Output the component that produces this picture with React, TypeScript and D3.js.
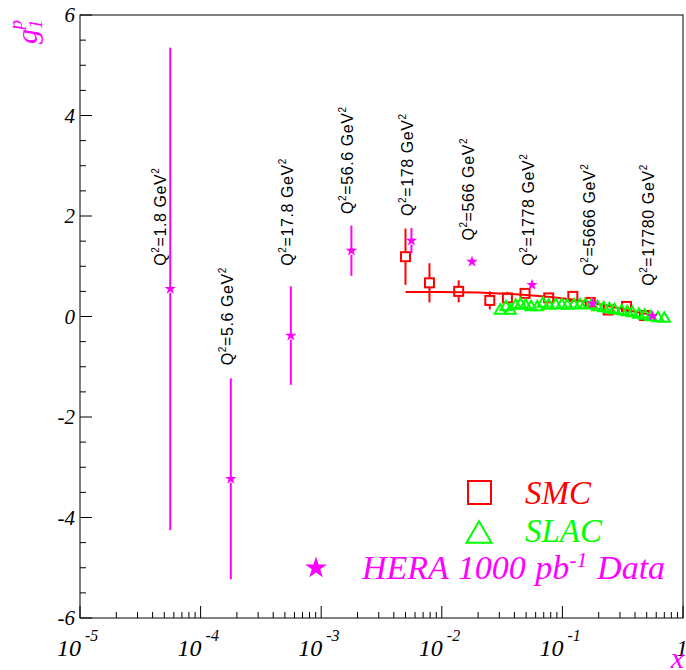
import React from 'react';
import * as d3 from 'd3';

const W = 686;
const H = 670;

// axis ticks
const yMajorTicks = [-6, -4, -2, 0, 2, 4, 6];
const yTickLabels = ['-6', '-4', '-2', '0', '2', '4', '6'];
const xDecades = [-5, -4, -3, -2, -1, 0];
const xDecadeLabels = ['-5', '-4', '-3', '-2', '-1', ''];

// HERA projected data (stars)
const heraX = [5.6e-5, 1.78e-4, 5.6e-4, 1.78e-3, 5.6e-3, 1.78e-2, 5.6e-2, 0.178, 0.56];
const heraY = [0.55, -3.23, -0.38, 1.31, 1.51, 1.09, 0.63, 0.26, 0.01];
const heraErr = [4.8, 2.0, 0.98, 0.5, 0.25, 0.08, 0.06, 0.04, 0.03];

// Q^2 annotations
const q2Values = ['1.8', '5.6', '17.8', '56.6', '178', '566', '1778', '5666', '17780'];
const labelX = [5.2e-5, 1.85e-4, 5.8e-4, 1.85e-3, 5.8e-3, 1.85e-2, 5.8e-2, 0.185, 0.58];
const labelY = [1.01, -0.97, 1.01, 2.04, 2.0, 1.51, 1.01, 0.81, 0.61];

// SMC data (open squares)
const smcX = [0.005, 0.0079, 0.0138, 0.025, 0.035, 0.049, 0.077, 0.122, 0.17, 0.24, 0.34, 0.48];
const smcY = [1.19, 0.67, 0.5, 0.32, 0.37, 0.46, 0.37, 0.4, 0.28, 0.13, 0.2, 0.02];
const smcErr = [0.56, 0.39, 0.22, 0.18, 0.12, 0.1, 0.08, 0.06, 0.05, 0.05, 0.05, 0.05];

// SLAC data (open triangles)
const slacX = [0.0305, 0.034, 0.037, 0.041, 0.045, 0.0495, 0.055, 0.062, 0.069, 0.077, 0.088, 0.099,
  0.11, 0.125, 0.14, 0.155, 0.175, 0.196, 0.22, 0.245, 0.27, 0.31, 0.345, 0.38, 0.43, 0.48, 0.54, 0.62, 0.70];
const slacY = [0.15, 0.22, 0.15, 0.25, 0.27, 0.25, 0.22, 0.22, 0.29, 0.25, 0.26, 0.26,
  0.25, 0.26, 0.26, 0.26, 0.26, 0.22, 0.2, 0.18, 0.16, 0.14, 0.12, 0.1, 0.07, 0.05, 0.02, 0.0, -0.01];

// fit curve (red line)
const fitX = [0.005, 0.01, 0.02, 0.03, 0.05, 0.08, 0.12, 0.2, 0.3, 0.45, 0.6];
const fitY = [0.49, 0.49, 0.48, 0.46, 0.43, 0.39, 0.34, 0.25, 0.16, 0.07, 0.02];

const MAGENTA = '#ff00ff';
const RED = '#ff0000';
const GREEN = '#00ff00';
const SERIF = '"Liberation Serif", "Times New Roman", serif';
const SANS = '"Liberation Sans", Arial, Helvetica, sans-serif';

const x = d3.scaleLog().domain([1e-5, 1]).range([80, 683]);
const y = d3.scaleLinear().domain([-6, 6]).range([618, 15]);

const starPath = (size: number) => d3.symbol().type(d3.symbolStar).size(size)() as string;
const triPath = (s: number) => {
  const h = s * 0.866;
  return `M0,${-h / 2}L${s / 2},${h / 2}L${-s / 2},${h / 2}Z`;
};

function ErrBar({ px, py, err, gap, color, w }: { px: number; py: number; err: number; gap: number; color: string; w: number }) {
  const top = y(py + err) as number;
  const bot = y(py - err) as number;
  const cy = y(py) as number;
  const segs: [number, number][] = [];
  if (cy - gap > top) segs.push([top, cy - gap]);
  if (cy + gap < bot) segs.push([cy + gap, bot]);
  return (
    <g>
      {segs.map((s, i) => (
        <line key={i} x1={px} x2={px} y1={s[0]} y2={s[1]} stroke={color} strokeWidth={w} />
      ))}
    </g>
  );
}

export default function App() {
  const x0 = x.range()[0];
  const x1 = x.range()[1];
  const y0 = y.range()[0];
  const y1 = y.range()[1];

  const yMinor = d3.range(-6, 6.001, 0.5);
  const xMinor: number[] = [];
  for (let d = -5; d < 0; d++) for (let k = 2; k <= 9; k++) xMinor.push(k * Math.pow(10, d));

  const fitLine = d3.line<number>().x((_, i) => x(fitX[i])).y((v) => y(v))(fitY) as string;

  return (
    <svg width={W} height={H} style={{ position: 'absolute', left: 0, top: 0, background: '#fff' }}>
      <rect width={W} height={H} fill="#fff" />
      {/* frame */}
      <rect x={x0} y={y1} width={x1 - x0} height={y0 - y1} fill="none" stroke="#000" strokeWidth={1} />

      {/* y ticks */}
      {yMinor.map((v, i) => {
        const major = Math.abs(v % 2) < 1e-6;
        return <line key={'ym' + i} x1={x0} x2={x0 + (major ? 12 : 6)} y1={y(v)} y2={y(v)} stroke="#000" strokeWidth={1} />;
      })}
      {yMajorTicks.map((v, i) => (
        <text key={'yl' + i} x={75} y={y(v)} dy="0.35em" textAnchor="end" fontFamily={SERIF} fontStyle="italic" fontSize={21} fill="#000">
          {yTickLabels[i]}
        </text>
      ))}

      {/* x ticks */}
      {xMinor.map((v, i) => (
        <line key={'xm' + i} x1={x(v)} x2={x(v)} y1={y0} y2={y0 - 6} stroke="#000" strokeWidth={1} />
      ))}
      {xDecades.map((d, i) => (
        <line key={'xM' + i} x1={x(Math.pow(10, d))} x2={x(Math.pow(10, d))} y1={y0} y2={y0 - 12} stroke="#000" strokeWidth={1} />
      ))}
      {xDecades.map((d, i) => {
        const px = x(Math.pow(10, d));
        if (d === 0) {
          return (
            <text key={'xl' + i} x={px - 1} y={656} textAnchor="middle" fontFamily={SERIF} fontStyle="italic" fontSize={23} fill="#000">1</text>
          );
        }
        return (
          <g key={'xl' + i}>
            <text x={px + 1} y={656} textAnchor="end" fontFamily={SERIF} fontStyle="italic" fontSize={24} fill="#000">10</text>
            <text x={px + 5} y={641} textAnchor="start" fontFamily={SERIF} fontStyle="italic" fontSize={16} fill="#000">{xDecadeLabels[i]}</text>
          </g>
        );
      })}

      {/* axis titles */}
      <text x={684} y={668} textAnchor="end" fontFamily={SERIF} fontStyle="italic" fontSize={30} fill={MAGENTA}>x</text>
      <g transform="translate(37,44) rotate(-90)">
        <text x={0} y={0} fontFamily={SERIF} fontStyle="italic" fontSize={30} fill={MAGENTA}>
          g
          <tspan fontSize={19} dy={5}>1</tspan>
          <tspan fontSize={19} dx={-10} dy={-20}>p</tspan>
        </text>
      </g>

      {/* Q2 labels */}
      {q2Values.map((q, i) => (
        <g key={'q' + i} transform={`translate(${x(labelX[i])},${y(labelY[i])}) rotate(-90)`}>
          <text x={0} y={0} fontFamily={SANS} fontSize={16} letterSpacing={0.6} fill="#000">
            Q<tspan fontSize={10} dy={-7}>2</tspan>
            <tspan dy={7}>={q} GeV</tspan>
            <tspan fontSize={10} dy={-7}>2</tspan>
          </text>
        </g>
      ))}

      {/* fit line */}
      <path d={fitLine} fill="none" stroke={RED} strokeWidth={2} />

      {/* SMC */}
      {smcX.map((v, i) => (
        <g key={'smc' + i}>
          <ErrBar px={x(v)} py={smcY[i]} err={smcErr[i]} gap={5} color={RED} w={2} />
          <rect x={x(v) - 4.5} y={y(smcY[i]) - 4.5} width={9} height={9} fill="none" stroke={RED} strokeWidth={2} />
        </g>
      ))}

      {/* SLAC */}
      {slacX.map((v, i) => (
        <path key={'slac' + i} transform={`translate(${x(v)},${y(slacY[i])})`} d={triPath(11)} fill="none" stroke={GREEN} strokeWidth={2} />
      ))}

      {/* HERA */}
      {heraX.map((v, i) => (
        <g key={'hera' + i}>
          <ErrBar px={x(v)} py={heraY[i]} err={heraErr[i]} gap={4} color={MAGENTA} w={2} />
          <path transform={`translate(${x(v)},${y(heraY[i])})`} d={starPath(42)} fill={MAGENTA} />
        </g>
      ))}

      {/* legend */}
      <rect x={468} y={481} width={23} height={23} fill="none" stroke={RED} strokeWidth={2} />
      <text x={525} y={504} fontFamily={SERIF} fontStyle="italic" fontSize={33} fill={RED}>SMC</text>
      <path transform="translate(479,532)" d={triPath(25)} fill="none" stroke={GREEN} strokeWidth={2} />
      <text x={525} y={542} fontFamily={SERIF} fontStyle="italic" fontSize={33} fill={GREEN}>SLAC</text>
      <path transform="translate(316,568)" d={starPath(150)} fill={MAGENTA} />
      <text x={362} y={579} fontFamily={SERIF} fontStyle="italic" fontSize={34} wordSpacing={1} fill={MAGENTA}>
        HERA 1000 pb<tspan fontSize={22} dy={-12}>-1</tspan>
        <tspan dy={12}> Data</tspan>
      </text>
    </svg>
  );
}
